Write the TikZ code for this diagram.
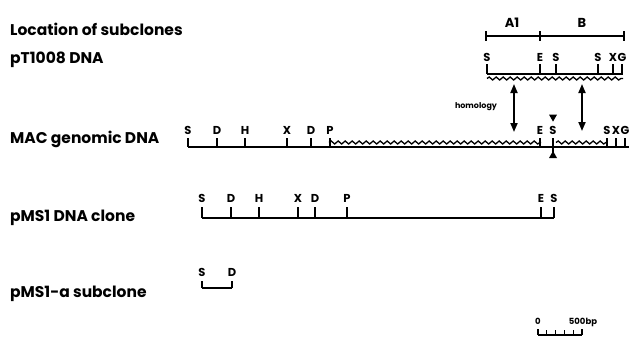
\documentclass[tikz,border=0pt]{standalone}
\usepackage{fontspec}
\setmainfont{Poppins}
\usetikzlibrary{decorations.pathmorphing,arrows.meta}

\tikzset{
  rowlabel/.style={anchor=base west, inner sep=0pt, font=\fontsize{15.5}{15.5}\selectfont\bfseries},
  site/.style={anchor=base, inner sep=0pt, font=\fontsize{11.5}{11.5}\selectfont\bfseries},
  dna/.style={line width=1.8pt},
  cut/.style={line width=1.7pt},
  wavy/.style={line width=1.3pt, decorate, decoration={snake, segment length=7pt, amplitude=1.5pt}},
  homarrow/.style={line width=1.8pt, {Triangle[width=7pt,length=9pt]}-{Triangle[width=7pt,length=9pt]}},
}

\begin{document}
\begin{tikzpicture}[x=1pt,y=-1pt]
      \useasboundingbox (0,0) rectangle (629,357);

      % row labels
      \node [rowlabel] (lbl-sub) at (10,35) {Location of subclones};
      \node [rowlabel] (lbl-pt) at (10,63) {pT1008 DNA};
      \node [rowlabel] (lbl-mac) at (10,143) {MAC genomic DNA};
      \node [rowlabel] (lbl-ms) at (10,221) {pMS1 DNA clone};
      \node [rowlabel] (lbl-msa) at (10,297) {pMS1-a subclone};

      % subclones
      \coordinate (sub-l) at (486,36) ;
      \coordinate (sub-m) at (540,36) ;
      \coordinate (sub-r) at (624,36) ;
      \draw [dna] (sub-l) -- (sub-r) ;
      \draw [cut] (sub-l) ++(0,-5) -- ++(0,10) ;
      \draw [cut] (sub-m) ++(0,-5) -- ++(0,10) ;
      \draw [cut] (sub-r) ++(0,-5) -- ++(0,10) ;
      \node [site, font=\fontsize{13}{13}\selectfont\bfseries] (sub-a) at (512,27) {A1} ;
      \node [site, font=\fontsize{13}{13}\selectfont\bfseries] (sub-b) at (582,27) {B} ;

      % pT1008 DNA
      \node [site] (pt-s1) at (487,61) {S} ;
      \node [site] (pt-e) at (540,61) {E} ;
      \node [site] (pt-s2) at (556,61) {S} ;
      \node [site] (pt-s3) at (598,61) {S} ;
      \node [site] (pt-x) at (613,61) {X} ;
      \node [site] (pt-g) at (622,61) {G} ;
      \draw [dna] (487,74) -- (623,74) ;
      \draw [wavy] (487,78.5) -- (623,78.5) ;
      \draw [cut] (pt-s1.south) ++(0,3) -- ++(0,10) ;
      \draw [cut] (pt-e.south) ++(0,3) -- ++(0,10) ;
      \draw [cut] (pt-s2.south) ++(0,3) -- ++(0,10) ;
      \draw [cut] (pt-s3.south) ++(0,3) -- ++(0,10) ;
      \draw [cut] (pt-x.south) ++(0,3) -- ++(0,10) ;
      \draw [cut] (pt-g.south) ++(0,3) -- ++(0,10) ;

      % homology
      \coordinate (hom-a1) at (514,84) ;
      \coordinate (hom-a2) at (514,132) ;
      \coordinate (hom-b1) at (582,84) ;
      \coordinate (hom-b2) at (582,131) ;
      \draw [homarrow] (hom-a1) -- (hom-a2) ;
      \draw [homarrow] (hom-b1) -- (hom-b2) ;
      \node [site, font=\fontsize{8}{8}\selectfont\bfseries] (hom) at (476,108) {homology} ;

      % MAC genomic DNA
      \node [site] (mac-s1) at (188,134) {S} ;
      \node [site] (mac-d1) at (217,134) {D} ;
      \node [site] (mac-h) at (245,134) {H} ;
      \node [site] (mac-x1) at (287,134) {X} ;
      \node [site] (mac-d2) at (311,134) {D} ;
      \node [site] (mac-p) at (330,134) {P} ;
      \node [site] (mac-e) at (540,134) {E} ;
      \node [site] (mac-s2) at (553,134) {S} ;
      \node [site] (mac-s3) at (607,134) {S} ;
      \node [site] (mac-x2) at (616,134) {X} ;
      \node [site] (mac-g) at (625,134) {G} ;
      \draw [dna] (188,147) -- (629,147) ;
      \draw [wavy] (329,142.5) -- (541,142.5) ;
      \draw [wavy] (556,142.5) -- (607,142.5) ;
      \draw [cut] (mac-s1.south) ++(0,4) -- ++(0,9) ;
      \draw [cut] (mac-d1.south) ++(0,4) -- ++(0,9) ;
      \draw [cut] (mac-h.south) ++(0,4) -- ++(0,9) ;
      \draw [cut] (mac-x1.south) ++(0,4) -- ++(0,9) ;
      \draw [cut] (mac-d2.south) ++(0,4) -- ++(0,9) ;
      \draw [cut] (mac-p.south) ++(0,4) -- ++(0,9) ;
      \draw [cut] (mac-e.south) ++(0,4) -- ++(0,9) ;
      \draw [cut] (mac-s2.south) ++(0,4) -- ++(0,15) ;
      \draw [cut] (mac-s3.south) ++(0,4) -- ++(0,9) ;
      \draw [cut] (mac-x2.south) ++(0,4) -- ++(0,9) ;
      \draw [cut] (mac-g.south) ++(0,4) -- ++(0,9) ;
      \fill (mac-s2.north) ++(-4,-11) -- ++(8,0) -- ++(-4,7) -- cycle ;
      \fill (553,151) -- ++(4,7) -- ++(-8,0) -- cycle ;

      % pMS1 DNA clone
      \node [site] (ms-s1) at (202,202) {S} ;
      \node [site] (ms-d1) at (231,202) {D} ;
      \node [site] (ms-h) at (259,202) {H} ;
      \node [site] (ms-x) at (298,202) {X} ;
      \node [site] (ms-d2) at (315,202) {D} ;
      \node [site] (ms-p) at (347,202) {P} ;
      \node [site] (ms-e) at (541,202) {E} ;
      \node [site] (ms-s2) at (554,202) {S} ;
      \draw [dna] (202,218) -- (554,218) ;
      \draw [cut] (ms-s1.south) ++(0,5) -- ++(0,11) ;
      \draw [cut] (ms-d1.south) ++(0,5) -- ++(0,11) ;
      \draw [cut] (ms-h.south) ++(0,5) -- ++(0,11) ;
      \draw [cut] (ms-x.south) ++(0,5) -- ++(0,11) ;
      \draw [cut] (ms-d2.south) ++(0,5) -- ++(0,11) ;
      \draw [cut] (ms-p.south) ++(0,5) -- ++(0,11) ;
      \draw [cut] (ms-e.south) ++(0,5) -- ++(0,11) ;
      \draw [cut] (ms-s2.south) ++(0,5) -- ++(0,11) ;

      % pMS1-a subclone
      \node [site] (msa-s) at (202,276) {S} ;
      \node [site] (msa-d) at (232,276) {D} ;
      \draw [dna] (202,288) -- (232,288) ;
      \draw [cut] (msa-s.south) ++(0,5) -- ++(0,7) ;
      \draw [cut] (msa-d.south) ++(0,5) -- ++(0,7) ;

      % scale
      \node [site, font=\fontsize{8.5}{8.5}\selectfont\bfseries] (bar-0) at (538,324) {0} ;
      \node [site, font=\fontsize{8.5}{8.5}\selectfont\bfseries] (bar-500) at (583,324) {500bp} ;
      \draw [line width=1.3pt] (538,335) -- (582,335) ;
      \draw [line width=1.3pt] (538,329) -- (538,335) ;
      \draw [line width=1.3pt] (546.8,330) -- (546.8,335) ;
      \draw [line width=1.3pt] (555.6,330) -- (555.6,335) ;
      \draw [line width=1.3pt] (564.4,330) -- (564.4,335) ;
      \draw [line width=1.3pt] (573.2,330) -- (573.2,335) ;
      \draw [line width=1.3pt] (582,329) -- (582,335) ;
    \end{tikzpicture}
\end{document}
